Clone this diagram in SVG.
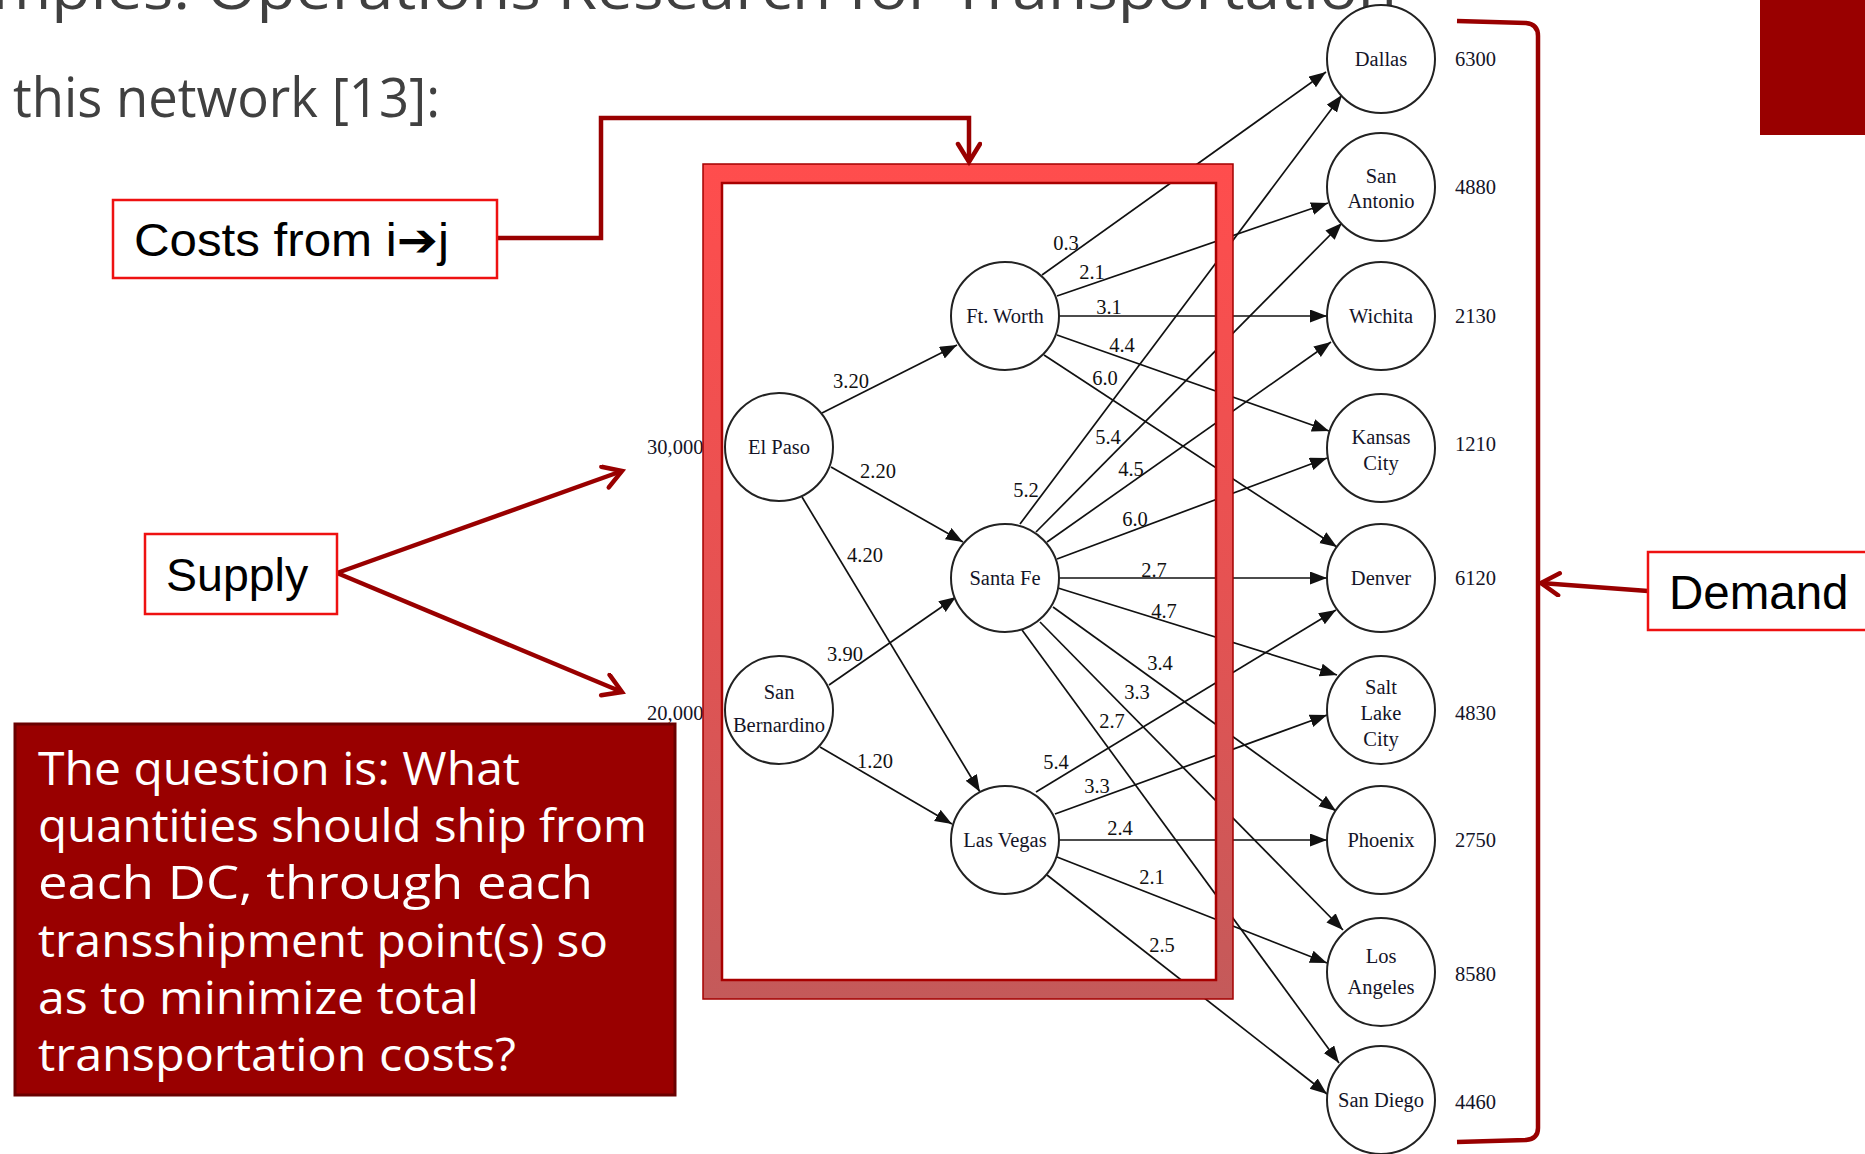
<svg xmlns="http://www.w3.org/2000/svg" width="1865" height="1154" viewBox="0 0 1865 1154">
<style>
.slide{font-family:"Open Sans","DejaVu Sans",sans-serif;fill:#404040}
.q{font-family:"Open Sans","DejaVu Sans",sans-serif;fill:#ffffff;font-size:45px}
.call{font-family:"Liberation Sans","DejaVu Sans",Arial,sans-serif;fill:#000}
.box{fill:#ffffff;stroke:#ee1111;stroke-width:2.5}
.nd{fill:#ffffff;stroke:#222;stroke-width:2}
.nt{font-family:"Liberation Serif","Times New Roman",serif;font-size:20.5px;fill:#141428;text-anchor:middle}
.val{font-family:"Liberation Serif","Times New Roman",serif;font-size:20.5px;fill:#141428}
.el{font-family:"Liberation Serif","Times New Roman",serif;font-size:20.5px;fill:#111;text-anchor:middle}
.e{stroke:#111;stroke-width:1.7;fill:none;marker-end:url(#ah)}
.red{stroke:#990000;stroke-width:4.5;fill:none;stroke-linejoin:miter}
.redv{stroke:#990000;stroke-width:4.5;fill:none;marker-end:url(#rv)}
</style>
<defs>
<marker id="ah" markerUnits="userSpaceOnUse" markerWidth="18" markerHeight="14" refX="17" refY="6.5" orient="auto">
<path d="M0,0 L17,6.5 L0,13 z" fill="#111"/>
</marker>
<marker id="rv" markerUnits="userSpaceOnUse" markerWidth="30" markerHeight="30" refX="21" refY="13" orient="auto">
<path d="M3,2 L21,13 L3,24" fill="none" stroke="#990000" stroke-width="4.5" stroke-linecap="round" stroke-linejoin="miter"/>
</marker>
<linearGradient id="fg" x1="0" y1="0" x2="0" y2="1">
<stop offset="0" stop-color="#ff4d4d"/>
<stop offset="0.5" stop-color="#e65252"/>
<stop offset="1" stop-color="#c45a5a"/>
</linearGradient>
</defs>

<!-- slide texts -->
<text class="slide" x="-8" y="9" font-size="56" textLength="1405" lengthAdjust="spacingAndGlyphs">mples: Operations Research for Transportation</text>
<text class="slide" x="13" y="117" font-size="54" textLength="427" lengthAdjust="spacingAndGlyphs">this network [13]:</text>
<rect x="1760" y="0" width="105" height="135" fill="#990000"/>

<!-- connectors of the network -->
<g id="edges">
<line class="e" x1="822" y1="413" x2="957" y2="345"/>
<line class="e" x1="831" y1="467" x2="963" y2="542"/>
<line class="e" x1="802" y1="497" x2="980" y2="792"/>
<line class="e" x1="829" y1="685" x2="956" y2="597"/>
<line class="e" x1="820" y1="747" x2="952" y2="824"/>
<line class="e" x1="1042" y1="275" x2="1326" y2="72"/>
<line class="e" x1="1057" y1="296" x2="1328" y2="203"/>
<line class="e" x1="1059" y1="316" x2="1327" y2="316"/>
<line class="e" x1="1057" y1="335" x2="1329" y2="431"/>
<line class="e" x1="1044" y1="355" x2="1337" y2="547"/>
<line class="e" x1="1020" y1="524" x2="1342" y2="95"/>
<line class="e" x1="1036" y1="532" x2="1342" y2="223"/>
<line class="e" x1="1047" y1="542" x2="1331" y2="342"/>
<line class="e" x1="1057" y1="559" x2="1327" y2="458"/>
<line class="e" x1="1059" y1="578" x2="1327" y2="578"/>
<line class="e" x1="1058" y1="588" x2="1337" y2="675"/>
<line class="e" x1="1053" y1="607" x2="1336" y2="811"/>
<line class="e" x1="1040" y1="622" x2="1343" y2="930"/>
<line class="e" x1="1022" y1="630" x2="1339" y2="1063"/>
<line class="e" x1="1036" y1="792" x2="1336" y2="610"/>
<line class="e" x1="1055" y1="814" x2="1327" y2="715"/>
<line class="e" x1="1059" y1="840" x2="1327" y2="840"/>
<line class="e" x1="1057" y1="857" x2="1327" y2="963"/>
<line class="e" x1="1047" y1="875" x2="1327" y2="1094"/>
</g>

<g id="edge-labels">
<text class="el" x="851" y="388">3.20</text>
<text class="el" x="878" y="478">2.20</text>
<text class="el" x="865" y="562">4.20</text>
<text class="el" x="845" y="661">3.90</text>
<text class="el" x="875" y="768">1.20</text>
<text class="el" x="1066" y="250">0.3</text>
<text class="el" x="1092" y="279">2.1</text>
<text class="el" x="1109" y="314">3.1</text>
<text class="el" x="1122" y="352">4.4</text>
<text class="el" x="1105" y="385">6.0</text>
<text class="el" x="1108" y="444">5.4</text>
<text class="el" x="1131" y="476">4.5</text>
<text class="el" x="1026" y="497">5.2</text>
<text class="el" x="1135" y="526">6.0</text>
<text class="el" x="1154" y="577">2.7</text>
<text class="el" x="1164" y="618">4.7</text>
<text class="el" x="1160" y="670">3.4</text>
<text class="el" x="1137" y="699">3.3</text>
<text class="el" x="1112" y="728">2.7</text>
<text class="el" x="1056" y="769">5.4</text>
<text class="el" x="1097" y="793">3.3</text>
<text class="el" x="1120" y="835">2.4</text>
<text class="el" x="1152" y="884">2.1</text>
<text class="el" x="1162" y="952">2.5</text>
</g>

<g id="node-el-paso"><circle class="nd" cx="779" cy="447" r="54"/><text class="nt" x="779" y="454">El Paso</text></g>
<g id="node-san-bernardino"><circle class="nd" cx="779" cy="710" r="54"/><text class="nt" x="779" y="699">San</text><text class="nt" x="779" y="732">Bernardino</text></g>
<g id="node-ft-worth"><circle class="nd" cx="1005" cy="316" r="54"/><text class="nt" x="1005" y="323">Ft. Worth</text></g>
<g id="node-santa-fe"><circle class="nd" cx="1005" cy="578" r="54"/><text class="nt" x="1005" y="585">Santa Fe</text></g>
<g id="node-las-vegas"><circle class="nd" cx="1005" cy="840" r="54"/><text class="nt" x="1005" y="847">Las Vegas</text></g>
<g id="node-dallas"><circle class="nd" cx="1381" cy="59" r="54"/><text class="nt" x="1381" y="66">Dallas</text></g>
<g id="node-san-antonio"><circle class="nd" cx="1381" cy="187" r="54"/><text class="nt" x="1381" y="183">San</text><text class="nt" x="1381" y="208">Antonio</text></g>
<g id="node-wichita"><circle class="nd" cx="1381" cy="316" r="54"/><text class="nt" x="1381" y="323">Wichita</text></g>
<g id="node-kansas-city"><circle class="nd" cx="1381" cy="448" r="54"/><text class="nt" x="1381" y="444">Kansas</text><text class="nt" x="1381" y="470">City</text></g>
<g id="node-denver"><circle class="nd" cx="1381" cy="578" r="54"/><text class="nt" x="1381" y="585">Denver</text></g>
<g id="node-salt-lake-city"><circle class="nd" cx="1381" cy="710" r="54"/><text class="nt" x="1381" y="694">Salt</text><text class="nt" x="1381" y="720">Lake</text><text class="nt" x="1381" y="746">City</text></g>
<g id="node-phoenix"><circle class="nd" cx="1381" cy="840" r="54"/><text class="nt" x="1381" y="847">Phoenix</text></g>
<g id="node-los-angeles"><circle class="nd" cx="1381" cy="972" r="54"/><text class="nt" x="1381" y="963">Los</text><text class="nt" x="1381" y="994">Angeles</text></g>
<g id="node-san-diego"><circle class="nd" cx="1381" cy="1100" r="54"/><text class="nt" x="1381" y="1107">San Diego</text></g>

<g id="values">
<text class="val" x="647" y="454">30,000</text>
<text class="val" x="647" y="720">20,000</text>
<text class="val" x="1455" y="66">6300</text>
<text class="val" x="1455" y="194">4880</text>
<text class="val" x="1455" y="323">2130</text>
<text class="val" x="1455" y="451">1210</text>
<text class="val" x="1455" y="585">6120</text>
<text class="val" x="1455" y="720">4830</text>
<text class="val" x="1455" y="847">2750</text>
<text class="val" x="1455" y="981">8580</text>
<text class="val" x="1455" y="1109">4460</text>
</g>

<!-- highlight frame -->
<g id="frame">
<path d="M703,164 H1233 V999 H703 Z M722,183 V980 H1216 V183 Z" fill="url(#fg)" fill-rule="evenodd" stroke="#a40000" stroke-width="1.5"/>
<rect x="722" y="183" width="494" height="797" fill="none" stroke="#a80000" stroke-width="2.5"/>
</g>

<!-- callouts -->
<g id="callout-connectors">
<path class="redv" d="M497,238 H601 V118 H969 V162"/>
<line class="redv" x1="337" y1="573" x2="622" y2="471"/>
<line class="redv" x1="337" y1="573" x2="622" y2="692"/>
<line class="redv" x1="1648" y1="591" x2="1541" y2="583"/>
<path class="red" d="M1457,21 L1526,23 Q1538,24 1538,36 L1538,1128 Q1538,1139 1526,1140 L1457,1142"/>
</g>

<g id="costs-box">
<rect class="box" x="113" y="200" width="384" height="78"/>
<text class="call" x="134" y="256" font-size="46" textLength="315" lengthAdjust="spacingAndGlyphs">Costs from i➔j</text>
</g>
<g id="supply-box">
<rect class="box" x="145" y="534" width="192" height="80"/>
<text class="call" x="166" y="591" font-size="46.5">Supply</text>
</g>
<g id="demand-box">
<rect class="box" x="1648" y="552" width="230" height="78"/>
<text class="call" x="1669" y="609" font-size="47.5">Demand</text>
</g>

<g id="question-box">
<rect x="15" y="724" width="660" height="371" fill="#990000" stroke="#6a0000" stroke-width="3"/>
<text class="q" x="38" y="785" textLength="482" lengthAdjust="spacingAndGlyphs">The question is: What</text>
<text class="q" x="38" y="842" textLength="609" lengthAdjust="spacingAndGlyphs">quantities should ship from</text>
<text class="q" x="38" y="899" textLength="555" lengthAdjust="spacingAndGlyphs">each DC, through each</text>
<text class="q" x="38" y="957" textLength="570" lengthAdjust="spacingAndGlyphs">transshipment point(s) so</text>
<text class="q" x="38" y="1014" textLength="441" lengthAdjust="spacingAndGlyphs">as to minimize total</text>
<text class="q" x="38" y="1071" textLength="478" lengthAdjust="spacingAndGlyphs">transportation costs?</text>
</g>
</svg>
